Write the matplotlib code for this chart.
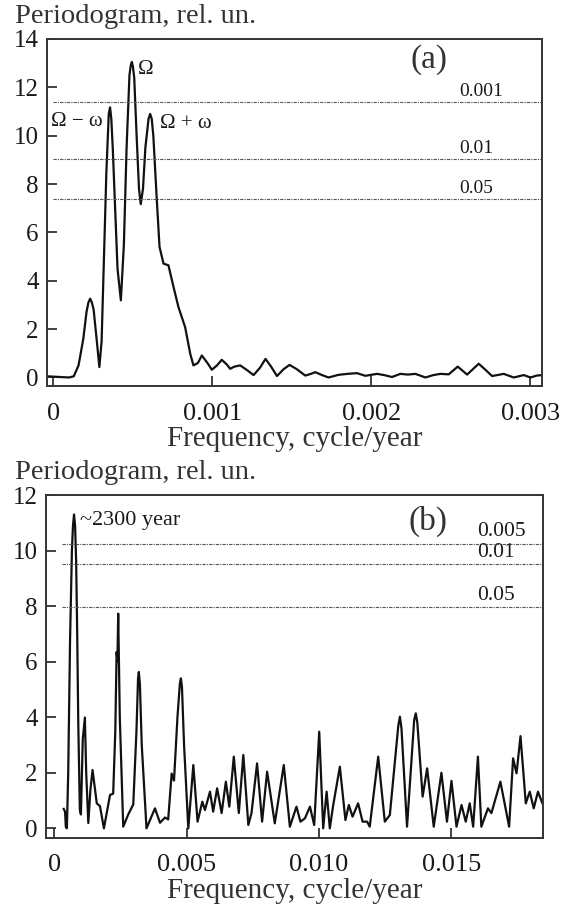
import matplotlib
matplotlib.use('Agg')
import matplotlib.pyplot as plt

plt.rcParams['font.family'] = ['Liberation Serif', 'DejaVu Serif']

# panel (a): periodogram, frequency in cycle/year
freq_a = [-0.00004, 0.0001, 0.00013, 0.00016, 0.00019, 0.00021, 0.000222, 0.000233, 0.000244,
          0.000255, 0.000275, 0.000291, 0.000305, 0.00032, 0.000335, 0.00035, 0.000358, 0.000366,
          0.000375, 0.00039, 0.000405, 0.000426, 0.000445, 0.000462, 0.00048, 0.000488, 0.000495,
          0.000502, 0.00051, 0.000525, 0.00054, 0.000551, 0.000565, 0.00058, 0.0006, 0.00061,
          0.00062, 0.00063, 0.000652, 0.000669, 0.000694, 0.000725, 0.000757, 0.000788, 0.00083,
          0.000862, 0.000882, 0.00091, 0.000935, 0.00097, 0.000998, 0.00103, 0.00106, 0.00109,
          0.001113, 0.00114, 0.001176, 0.00122, 0.00126, 0.0013, 0.001335, 0.00137, 0.001407,
          0.00145, 0.001486, 0.00153, 0.001585, 0.00162, 0.001648, 0.00169, 0.001731, 0.001794,
          0.00185, 0.00191, 0.001962, 0.002036, 0.00208, 0.00213, 0.002182, 0.00223, 0.002277,
          0.00234, 0.00239, 0.002434, 0.002486, 0.002543, 0.002602, 0.002675, 0.00272, 0.002759,
          0.002832, 0.002895, 0.002958, 0.003, 0.00304, 0.003073]
power_a = [0.05, 0.0, 0.05, 0.5, 1.6, 2.7, 3.1, 3.26, 3.1,
           2.8, 1.5, 0.43, 1.5, 5.0, 8.5, 10.9, 11.17, 10.7,
           9.5, 7.0, 4.5, 3.19, 5.5, 9.5, 12.5, 12.9, 13.05,
           12.85, 12.4, 10.0, 7.8, 7.17, 7.8, 9.5, 10.7, 10.9,
           10.7, 10.0, 7.33, 5.4, 4.71, 4.64, 3.74, 2.91, 2.08,
           0.98, 0.5, 0.6, 0.91, 0.6, 0.32, 0.5, 0.73, 0.55,
           0.36, 0.45, 0.5, 0.3, 0.1, 0.4, 0.77, 0.45, 0.06,
           0.35, 0.52, 0.35, 0.08, 0.15, 0.22, 0.1, 0.0, 0.11,
           0.15, 0.18, 0.07, 0.15, 0.1, 0.02, 0.15, 0.12, 0.15,
           0.0, 0.1, 0.15, 0.13, 0.45, 0.12, 0.57, 0.3, 0.06,
           0.15, 0.0, 0.1, 0.0, 0.08, 0.1]
levels_a = [11.4, 9.05, 7.37]
level_labels_a = ['0.001', '0.01', '0.05']

# panel (b)
freq_b = [0.00035, 0.0004, 0.00043, 0.00047, 0.00052, 0.00059, 0.00066, 0.0007, 0.00074,
          0.00078, 0.00082, 0.00086, 0.0009, 0.00096, 0.001, 0.00107, 0.00115, 0.0012,
          0.00128, 0.00136, 0.00144, 0.0016, 0.00172, 0.00187, 0.0021, 0.00222, 0.0023,
          0.00235, 0.00238, 0.00241, 0.00247, 0.0026, 0.00279, 0.00298, 0.0031, 0.00316,
          0.00319, 0.00323, 0.0033, 0.00348, 0.0038, 0.00399, 0.00418, 0.0043, 0.00443,
          0.00452, 0.00465, 0.00474, 0.00478, 0.00482, 0.0049, 0.00506, 0.00525, 0.00541,
          0.00559, 0.00569, 0.00588, 0.006, 0.00615, 0.00632, 0.00648, 0.00661, 0.00678,
          0.00697, 0.00714, 0.00733, 0.00745, 0.00766, 0.00785, 0.00804, 0.00833, 0.00867,
          0.0089, 0.00915, 0.0093, 0.00947, 0.00966, 0.00982, 0.01001, 0.01016, 0.01029,
          0.01041, 0.01054, 0.01079, 0.011, 0.01113, 0.01127, 0.01148, 0.01165, 0.01182,
          0.01192, 0.01224, 0.01249, 0.01268, 0.013, 0.01306, 0.01312, 0.01333, 0.0136,
          0.01366, 0.01372, 0.01392, 0.01409, 0.01434, 0.01463, 0.01484, 0.01501, 0.0152,
          0.01539, 0.01555, 0.0157, 0.01583, 0.01601, 0.01614, 0.01639, 0.01652, 0.01686,
          0.01719, 0.01734, 0.01747, 0.01762, 0.01782, 0.01797, 0.01812, 0.01828, 0.01845]
power_b = [0.7, 0.6, 0.05, 0.0, 2.0, 6.8, 10.0, 10.9, 11.3,
           10.9, 9.6, 7.0, 3.8, 0.66, 0.5, 3.2, 3.99, 2.0,
           0.19, 1.4, 2.1, 0.9, 0.8, 0.0, 1.2, 1.25, 3.5,
           6.35, 6.0, 7.73, 4.0, 0.06, 0.5, 0.86, 3.5, 5.4,
           5.63, 5.2, 3.0, 0.0, 0.72, 0.2, 0.39, 0.32, 1.97,
           1.72, 4.0, 5.2, 5.4, 5.1, 3.0, 0.0, 2.28, 0.24,
           0.96, 0.66, 1.32, 0.6, 1.44, 0.55, 1.68, 0.78, 2.58,
           0.55, 2.64, 0.12, 0.55, 2.34, 0.24, 2.04, 0.18, 2.28,
           0.06, 0.78, 0.24, 0.36, 0.78, 0.12, 3.48, 0.0, 1.32,
           0.0, 0.84, 2.22, 0.3, 0.84, 0.42, 0.9, 0.24, 0.24,
           0.06, 2.58, 0.24, 0.48, 3.7, 4.02, 3.6, 0.06, 3.9,
           4.14, 3.8, 1.14, 2.16, 0.06, 2.0, 0.24, 1.71, 0.06,
           0.84, 0.24, 0.9, 0.06, 2.58, 0.06, 0.72, 0.55, 1.68,
           0.06, 2.52, 1.98, 3.32, 0.9, 1.32, 0.72, 1.32, 0.9]
levels_b = [10.25, 9.5, 7.97]
level_labels_b = ['0.005', '0.01', '0.05']

ink = '#1a1a1a'
fig = plt.figure(figsize=(5.7, 9.06), dpi=100)
ax_a = fig.add_axes([0.0825, 0.574, 0.8685, 0.383])
ax_b = fig.add_axes([0.0807, 0.0756, 0.8719, 0.378])


def style(ax):
    for s in ax.spines.values():
        s.set_linewidth(1.4)
        s.set_color('#333333')
    ax.tick_params(direction='in', length=7, width=1.3, colors='#333333',
                   labelsize=18, labelcolor=ink, top=False, right=False)
    ax.tick_params(axis='x', pad=12, labelsize=19)
    ax.tick_params(axis='y', pad=6)
    ax.set_xlabel('Frequency, cycle/year', fontsize=21, color='#333333', labelpad=1)


# (a)
ax_a.plot(freq_a, power_a, color='#111111', lw=1.6, solid_joinstyle='round')
for lev, lab in zip(levels_a, level_labels_a):
    ax_a.plot([0, 0.00308], [lev, lev], color='#555555', lw=0.8, ls=(0, (3, 1, 1, 1)))
    ax_a.text(0.00255, lev + 0.08, lab, fontsize=14, color=ink, va='bottom', ha='left')
ax_a.set_xlim(-0.000038, 0.003073)
ax_a.set_ylim(-0.35, 14)
ax_a.set_xticks([0, 0.001, 0.002, 0.003])
ax_a.set_xticklabels(['0', '0.001', '0.002', '0.003'])
ax_a.set_yticks(range(0, 15, 2))
style(ax_a)
ax_a.text(0.00236, 13.13, '(a)', fontsize=24, color='#333333', ha='center', va='center')
ax_a.text(0.00053, 12.75, '\u03a9', fontsize=15, color=ink, ha='left', va='center')
ax_a.text(-0.00001, 10.6, '\u03a9 \u2212 \u03c9', fontsize=15, color=ink, ha='left', va='center')
ax_a.text(0.00067, 10.5, '\u03a9 + \u03c9', fontsize=15, color=ink, ha='left', va='center')

# (b)
ax_b.plot(freq_b, power_b, color='#111111', lw=1.6, solid_joinstyle='round')
for lev, lab in zip(levels_b, level_labels_b):
    ax_b.plot([0.0003, 0.0186], [lev, lev], color='#555555', lw=0.8, ls=(0, (3, 1, 1, 1)))
    ax_b.text(0.01597, lev + 0.08, lab, fontsize=15.5, color=ink, va='bottom', ha='left')
ax_b.set_xlim(-0.00032, 0.01847)
ax_b.set_ylim(-0.33, 12)
ax_b.set_xticks([0, 0.005, 0.010, 0.015])
ax_b.set_xticklabels(['0', '0.005', '0.010', '0.015'])
ax_b.set_yticks(range(0, 13, 2))
style(ax_b)
ax_b.text(0.01412, 11.05, '(b)', fontsize=24, color='#333333', ha='center', va='center')
ax_b.text(0.00096, 11.1, '~2300 year', fontsize=16, color=ink, ha='left', va='center')

fig.text(15 / 570, 1 - 23 / 906, 'Periodogram, rel. un.', fontsize=20.5, color='#333333',
         ha='left', va='baseline')
fig.text(15 / 570, 1 - 479 / 906, 'Periodogram, rel. un.', fontsize=20.5, color='#333333',
         ha='left', va='baseline')

fig.savefig('out.png', dpi=100)
